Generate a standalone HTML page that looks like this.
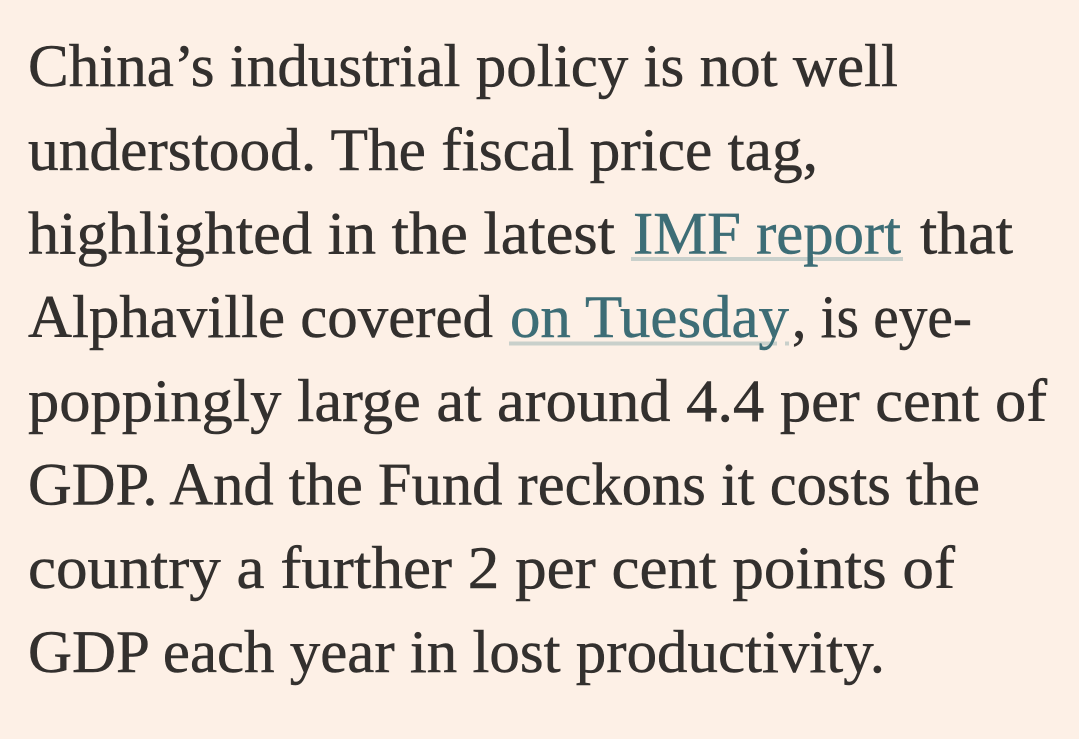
<!DOCTYPE html>
<html>
<head>
<meta charset="utf-8">
<style>
  html, body { margin: 0; padding: 0; background: #fdf0e6; }
  svg { display: block; }
  .t { font-family: "Liberation Serif", "DejaVu Serif", serif; font-size: 60px; fill: #33302e; stroke: #33302e; stroke-width: 0.5px; }
  .l { fill: #3d6d76; stroke: #3d6d76; }
</style>
</head>
<body>
<svg width="1079" height="739" viewBox="0 0 1079 739" xmlns="http://www.w3.org/2000/svg">
  <rect x="0" y="0" width="1079" height="739" fill="#fdf0e6"/>

  <!-- underlines -->
  <rect x="631" y="257" width="272" height="4" fill="#c9d0cb"/>
  <rect x="509" y="341.5" width="268" height="4" fill="#c9d0cb"/>
  <rect x="785" y="341.5" width="4" height="4" fill="#c9d0cb"/>

  <text class="t" x="28" y="86" textLength="870" lengthAdjust="spacingAndGlyphs">China’s industrial policy is not well</text>
  <text class="t" x="28" y="170" textLength="790" lengthAdjust="spacingAndGlyphs">understood. The fiscal price tag,</text>

  <text class="t" x="28" y="253.5" textLength="587" lengthAdjust="spacingAndGlyphs">highlighted in the latest</text>
  <text class="t l" x="633" y="253.5" textLength="268" lengthAdjust="spacingAndGlyphs">IMF report</text>
  <text class="t" x="920" y="253.5" textLength="93" lengthAdjust="spacingAndGlyphs">that</text>

  <text class="t" x="28" y="337" textLength="465" lengthAdjust="spacingAndGlyphs">Alphaville covered</text>
  <text class="t l" x="510" y="337" textLength="279" lengthAdjust="spacingAndGlyphs">on Tuesday</text>
  <text class="t" x="792" y="337" textLength="180" lengthAdjust="spacingAndGlyphs">, is eye-</text>

  <text class="t" x="28" y="421" textLength="1019" lengthAdjust="spacingAndGlyphs">poppingly large at around 4.4 per cent of</text>
  <text class="t" x="28" y="504.5" textLength="952" lengthAdjust="spacingAndGlyphs">GDP. And the Fund reckons it costs the</text>
  <text class="t" x="28" y="588" textLength="927" lengthAdjust="spacingAndGlyphs">country a further 2 per cent points of</text>
  <text class="t" x="28" y="672" textLength="857" lengthAdjust="spacingAndGlyphs">GDP each year in lost productivity.</text>
</svg>
</body>
</html>
